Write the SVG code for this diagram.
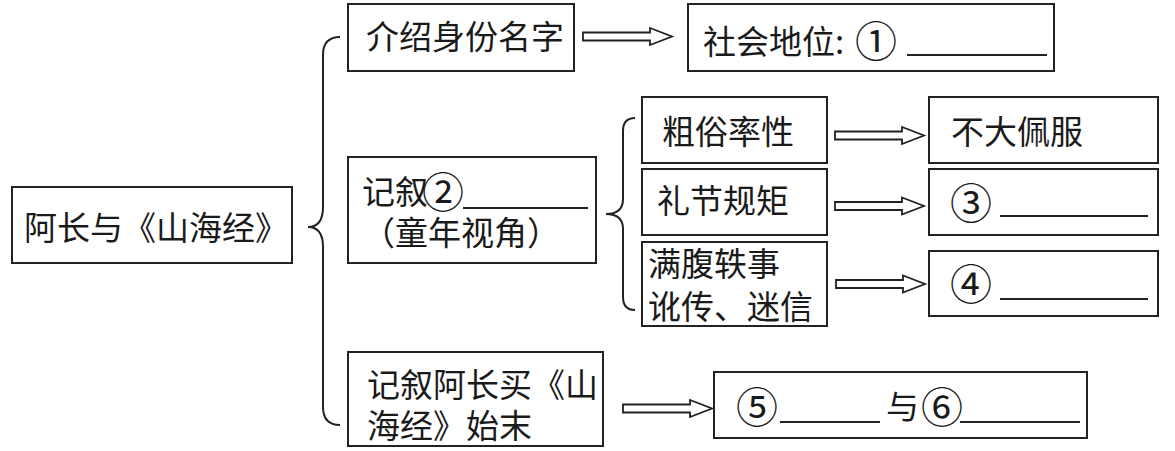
<svg xmlns="http://www.w3.org/2000/svg" width="1175" height="451" viewBox="0 0 1175 451">
<style>
.box{fill:#fff;stroke:#222;stroke-width:2}
.t{font-family:"Noto Sans CJK SC","Noto Sans CJK JP",sans-serif;font-size:33px;fill:#1a1a1a}
.c{font-size:42px}
.ul{stroke:#222;stroke-width:2}
.br{fill:none;stroke:#222;stroke-width:2}
.ar{fill:#fff;stroke:#222;stroke-width:1.8;stroke-linejoin:miter}
</style>
<defs>
<path id="arrow" class="ar" d="M0,-4 H67 V-8.5 L89,0 L67,8.5 V4 H0 Z"/>
</defs>
<rect width="1175" height="451" fill="#fff"/>
<g id="connectors">
<path class="br" d="M340,37 Q323,37 323,55 V207 Q323,227 308,227 Q323,227 323,247 V407 Q323,425 340,425"/>
<path class="br" d="M635,118 Q623,118 623,131 V199 Q623,214 606,214 Q623,214 623,229 V297 Q623,310 635,310"/>
<use href="#arrow" x="583" y="36.5"/>
<use href="#arrow" x="835" y="135.5"/>
<use href="#arrow" x="835" y="206"/>
<use href="#arrow" x="836" y="284"/>
<use href="#arrow" x="623" y="408.5"/>
</g>
<g id="main">
<rect class="box" x="12" y="187" width="280" height="76"/>
<text class="t" x="24" y="240">阿长与《山海经》</text>
</g>
<g id="intro">
<rect class="box" x="348" y="4" width="226" height="67"/>
<text class="t" x="366" y="48.5">介绍身份名字</text>
</g>
<g id="status">
<rect class="box" x="688" y="4" width="366" height="67"/>
<text class="t" x="703" y="54">社会地位:</text>
<text class="t c" x="855" y="57">①</text>
<line class="ul" x1="907" y1="55" x2="1047" y2="55"/>
</g>
<g id="narrate">
<rect class="box" x="348" y="157" width="248" height="106"/>
<text class="t" x="362" y="204">记叙</text>
<text class="t c" x="422" y="208">②</text>
<line class="ul" x1="463" y1="208" x2="588" y2="208"/>
<text class="t" x="362" y="245">（童年视角）</text>
</g>
<g id="rude">
<rect class="box" x="642" y="97" width="185" height="66"/>
<text class="t" x="662" y="143.5">粗俗率性</text>
</g>
<g id="etiquette">
<rect class="box" x="642" y="169" width="185" height="66"/>
<text class="t" x="657" y="212.5">礼节规矩</text>
</g>
<g id="stories">
<rect class="box" x="642" y="242" width="185" height="84"/>
<text class="t" x="648" y="276">满腹轶事</text>
<text class="t" x="648" y="318.5">讹传、迷信</text>
</g>
<g id="notadmire">
<rect class="box" x="929" y="97" width="229" height="66"/>
<text class="t" x="951" y="144">不大佩服</text>
</g>
<g id="blank3">
<rect class="box" x="929" y="169" width="229" height="66"/>
<text class="t c" x="950" y="218.5">③</text>
<line class="ul" x1="1000" y1="216" x2="1148" y2="216"/>
</g>
<g id="blank4">
<rect class="box" x="929" y="251" width="229" height="65"/>
<text class="t c" x="950" y="300">④</text>
<line class="ul" x1="1000" y1="299" x2="1148" y2="299"/>
</g>
<g id="buybook">
<rect class="box" x="348" y="352" width="255" height="94"/>
<text class="t" x="367" y="397">记叙阿长买《山</text>
<text class="t" x="367" y="438">海经》始末</text>
</g>
<g id="blank56">
<rect class="box" x="714" y="372" width="373" height="66"/>
<text class="t c" x="736" y="422.5">⑤</text>
<text class="t" x="886" y="419">与</text>
<text class="t c" x="921" y="422.5">⑥</text>
<line class="ul" x1="780" y1="422" x2="880" y2="422"/>
<line class="ul" x1="960" y1="422" x2="1080" y2="422"/>
</g>
</svg>
